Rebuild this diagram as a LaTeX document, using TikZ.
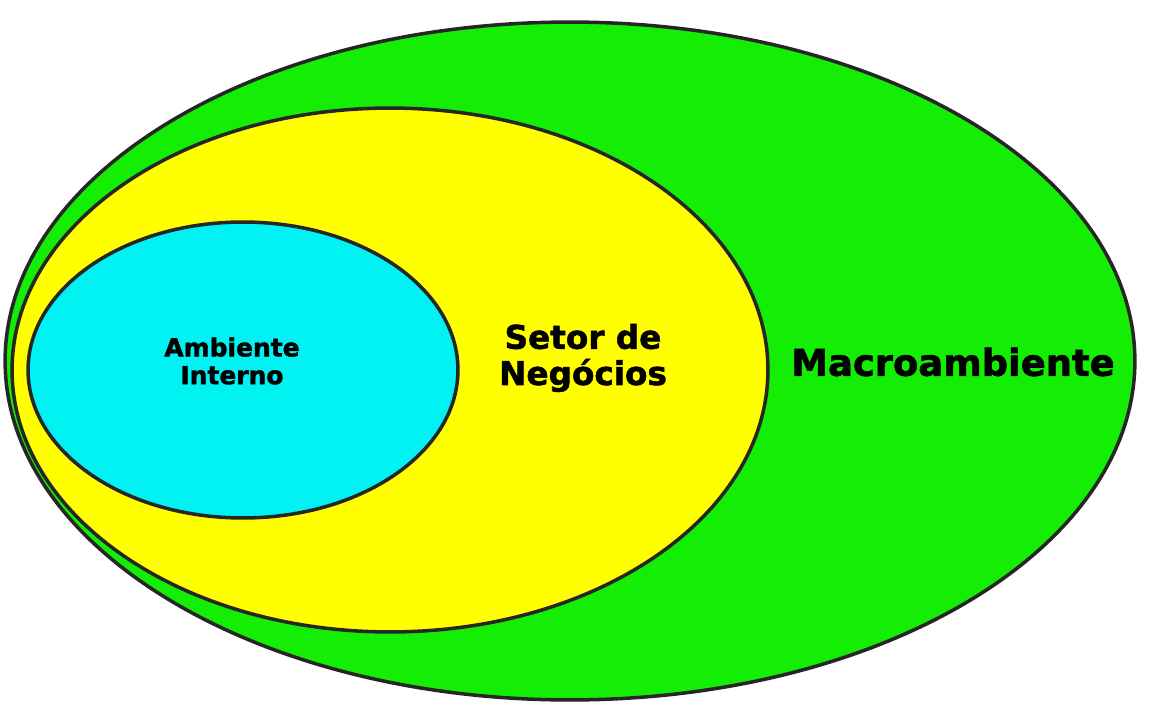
\documentclass[tikz,border=0pt]{standalone}
\usepackage{fontspec}
\setmainfont{DejaVu Sans}[BoldFeatures={FakeBold=1.6}]
\usepackage{tikz}
\usetikzlibrary{shapes.geometric}
\definecolor{macrogreen}{RGB}{20,238,4}
\definecolor{setoryellow}{RGB}{255,255,0}
\definecolor{internocyan}{RGB}{0,242,242}

\begin{document}
\begin{tikzpicture}[x=0.02cm, y=-0.02cm,
    zone/.style={ellipse, draw=black!85, line width=2pt,
                 inner sep=0pt, outer sep=0pt},
    zonelabel/.style={font=\bfseries, align=center, text=black}]
  \useasboundingbox (0,0) rectangle (1163,720);

  % Ellipses, outer to inner
  \node[zone, fill=macrogreen, minimum width=22.6cm,
        minimum height=13.56cm] (macro) at (570,361) {};
  \node[zone, fill=setoryellow, minimum width=15.12cm,
        minimum height=10.48cm] (setor) at (390,370) {};
  \node[zone, fill=internocyan, minimum width=8.6cm,
        minimum height=5.92cm] (interno) at (243,370) {};

  % Labels
  \node[zonelabel, font=\bfseries\fontsize{14.2}{15.8}\selectfont]
    (internolbl) at (232,361) {Ambiente\\Interno};
  \node[zonelabel, font=\bfseries\fontsize{18.6}{20.6}\selectfont]
    (setorlbl) at (583,358) {Setor de\\Negócios};
  \node[zonelabel, font=\bfseries\fontsize{21}{24}\selectfont]
    (macrolbl) at (953,362) {Macroambiente};
\end{tikzpicture}
\end{document}
